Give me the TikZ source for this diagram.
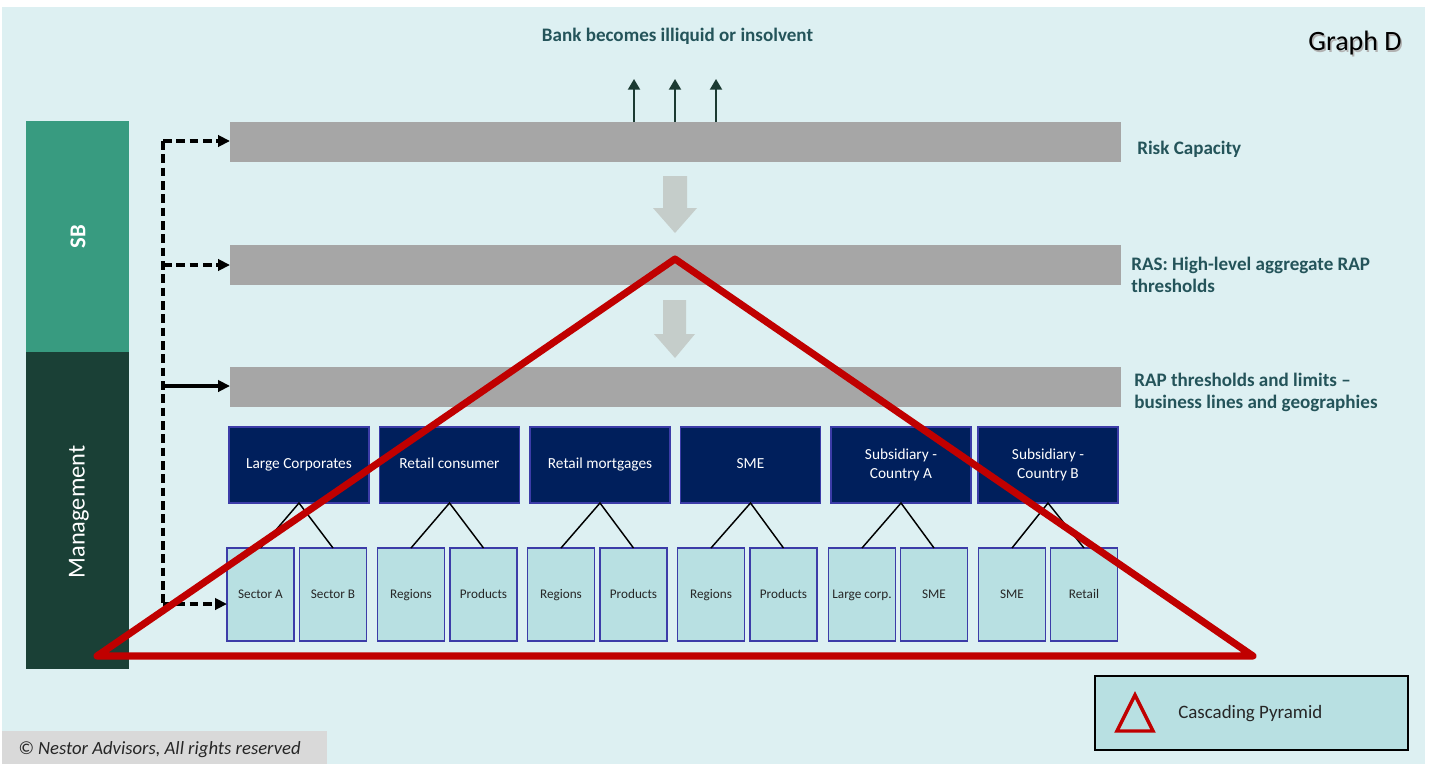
\documentclass[tikz,border=0pt]{standalone}
\usepackage{fontspec}
\setmainfont{Carlito}
\usetikzlibrary{arrows.meta}
\definecolor{bg}{HTML}{DDF0F2}
\definecolor{copyg}{HTML}{D9D9D9}
\definecolor{barg}{HTML}{A6A6A6}
\definecolor{arrg}{HTML}{C5CDCA}
\definecolor{sbgreen}{HTML}{389B80}
\definecolor{mgmt}{HTML}{1A4036}
\definecolor{navy}{HTML}{001F5C}
\definecolor{boxborder}{HTML}{3C3CA8}
\definecolor{lightbox}{HTML}{B8E0E2}
\definecolor{labelc}{HTML}{24545A}
\definecolor{upc}{HTML}{1B3A32}
\definecolor{redp}{HTML}{C00000}
\definecolor{textd}{HTML}{262626}
\tikzset{
  bar/.style={fill=barg, draw=none, minimum width=668.25pt, minimum height=30pt, inner sep=0pt, outer sep=0pt},
  parentbox/.style={fill=navy, draw=boxborder, line width=1.1pt, minimum width=105pt, minimum height=57pt, inner sep=0pt, outer sep=0pt, text=white, align=center, font=\fontsize{11.5}{14.5}\selectfont},
  oneline/.style={text height=1.6ex, text depth=0.5ex},
  childbox/.style={fill=lightbox, draw=boxborder, line width=1.1pt, minimum width=50.25pt, minimum height=69.75pt, inner sep=0pt, outer sep=0pt, text=textd, oneline, font=\fontsize{9.9}{12}\selectfont},
  rlabel/.style={anchor=west, align=left, text=labelc, inner sep=0pt, font=\bfseries\fontsize{14.3}{16.5}\selectfont},
  dashconn/.style={draw=black, line width=2.5pt, dash pattern=on 6.5pt off 3.5pt},
  solidconn/.style={draw=black, line width=2.5pt},
  tip/.style={-{Triangle[length=9pt,width=8.5pt]}},
  uparrow/.style={draw=upc, line width=1.5pt, -{Triangle[length=8pt,width=9pt]}},
  treeline/.style={draw=black, line width=1.1pt},
  blockarrow/.style={fill=arrg, draw=none},
  pyramid/.style={draw=redp, line width=5.3pt, line join=round, line cap=round}
}
\begin{document}
\begin{tikzpicture}[x=0.75pt,y=-0.75pt]
\useasboundingbox (0,0) rectangle (1437,764);
\fill[white] (0,0) rectangle (1437,764);
\fill[bg] (2,7) rectangle (1425,764);
% copyright strip
\fill[copyg] (2,731) rectangle (327,764);
\node[anchor=west, inner sep=0pt, text=textd, font=\itshape\fontsize{14}{16}\selectfont] (copy) at (18,750) {© Nestor Advisors, All rights reserved};
% title
\node[text=black!30, inner sep=0pt, font=\fontsize{21}{24}\selectfont] (gshadow) at (1356.5,45) {Graph D};
\node[text=black, inner sep=0pt, font=\fontsize{21}{24}\selectfont] (graphd) at (1355,43.5) {Graph D};
\node[text=labelc, inner sep=0pt, font=\bfseries\fontsize{14.3}{16.5}\selectfont] (bank) at (677.5,36) {Bank becomes illiquid or insolvent};
% left bars
\fill[sbgreen] (26,121) rectangle (129,352);
\fill[mgmt] (26,352) rectangle (129,669);
\node[rotate=90, text=white, inner sep=0pt, font=\bfseries\fontsize{17}{20}\selectfont] (sb) at (78,237) {SB};
\node[rotate=90, text=white, inner sep=0pt, font=\fontsize{18.3}{22}\selectfont] (mg) at (79,512) {Management};
% grey bars
\node[bar] (bar1) at (675.5,142) {};
\node[bar] (bar2) at (675.5,264.5) {};
\node[bar] (bar3) at (675.5,386.5) {};
% up arrows
\coordinate (u1) at (634,79);
\coordinate (u2) at (675,79);
\coordinate (u3) at (716,79);
\draw[uparrow] (bar1.north -| u1) -- (u1);
\draw[uparrow] (bar1.north -| u2) -- (u2);
\draw[uparrow] (bar1.north -| u3) -- (u3);
% block arrows
\fill[blockarrow] (663,176) -- (687,176) -- (687,208) -- (697,208) -- (675,233) -- (653,208) -- (663,208) -- cycle;
\fill[blockarrow] (663,300) -- (686,300) -- (686,334) -- (695,334) -- (675,358) -- (654,334) -- (663,334) -- cycle;
% right labels
\node[rlabel] (l1) at (1137,149) {Risk Capacity};
\node[rlabel] (l2) at (1131,275) {RAS: High-level aggregate RAP\\thresholds};
\node[rlabel] (l3) at (1134,392) {RAP thresholds and limits –\\business lines and geographies};
% parent boxes
\node[parentbox, oneline] (p1) at (299,465) {Large Corporates};
\node[parentbox, oneline] (p2) at (449.5,465) {Retail consumer};
\node[parentbox, oneline] (p3) at (600,465) {Retail mortgages};
\node[parentbox, oneline] (p4) at (750.5,465) {SME};
\node[parentbox] (p5) at (901,465) {Subsidiary -\\Country A};
\node[parentbox] (p6) at (1048,465) {Subsidiary -\\Country B};
% child boxes
\node[childbox] (c1) at (260.5,594.5) {Sector A};
\node[childbox] (c2) at (333,594.5) {Sector B};
\node[childbox] (c3) at (411,594.5) {Regions};
\node[childbox] (c4) at (483.5,594.5) {Products};
\node[childbox] (c5) at (561,594.5) {Regions};
\node[childbox] (c6) at (633.5,594.5) {Products};
\node[childbox] (c7) at (711,594.5) {Regions};
\node[childbox] (c8) at (783.5,594.5) {Products};
\node[childbox] (c9) at (862,594.5) {Large corp.};
\node[childbox] (c10) at (934,594.5) {SME};
\node[childbox] (c11) at (1012,594.5) {SME};
\node[childbox] (c12) at (1084,594.5) {Retail};
% tree lines
\foreach \p/\a/\b in {p1/c1/c2, p2/c3/c4, p3/c5/c6, p4/c7/c8, p5/c9/c10, p6/c11/c12}{
  \draw[treeline] (\a.north) -- (\p.south) -- (\b.north);
}
% connector spine
\coordinate (s1) at (163,141);
\coordinate (s2) at (163,265);
\coordinate (s3) at (163,386);
\coordinate (s4) at (163,604);
\draw[dashconn] (s1) -- (s4);
\draw[dashconn, tip] (s1) -- (s1 -| bar1.west);
\draw[dashconn, tip] (s2) -- (s2 -| bar2.west);
\draw[solidconn, tip] (s3) -- (s3 -| bar3.west);
\draw[dashconn, tip] (s4) -- (s4 -| c1.west);
% pyramid
\coordinate (tl) at (97,656);
\coordinate (tt) at (675,259);
\coordinate (tr) at (1253,656);
\draw[pyramid] (tl) -- (tt) -- (tr) -- cycle;
% legend
\node[fill=lightbox, draw=black, line width=1.1pt, minimum width=234.75pt, minimum height=55.5pt, inner sep=0pt, outer sep=0pt] (legend) at (1251.5,713) {};
\coordinate (la) at (1117,731);
\coordinate (lb) at (1135,695);
\coordinate (lc) at (1153,731);
\draw[draw=redp, line width=2.6pt, line join=miter] (la) -- (lb) -- (lc) -- cycle;
\node[anchor=west, inner sep=0pt, text=textd, font=\fontsize{14.2}{17}\selectfont] (legtext) at (1178,714) {Cascading Pyramid};
\end{tikzpicture}
\end{document}
